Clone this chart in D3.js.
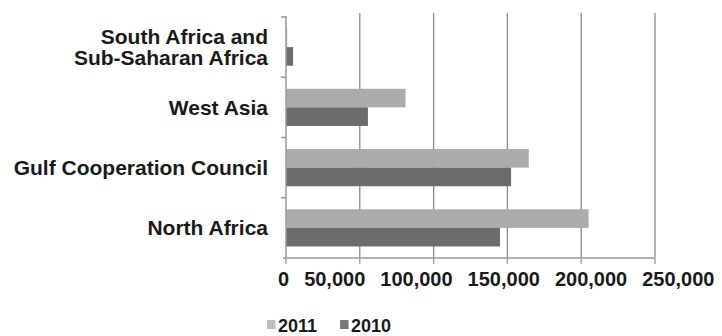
<!DOCTYPE html>
<html>
<head>
<meta charset="utf-8">
<script src="https://cdn.jsdelivr.net/npm/d3@7/dist/d3.min.js"></script>
<style>
  html, body { margin: 0; padding: 0; background: #fff; }
  svg { display: block; }
  text { font-family: "Liberation Sans", Arial, sans-serif; font-weight: bold; fill: #1a1a1a; }
</style>
</head>
<body>
<svg id="chart" width="722" height="336"></svg>
<script>
// Regions, top to bottom
const categories = [
  ["South Africa and", "Sub-Saharan Africa"],
  ["West Asia"],
  ["Gulf Cooperation Council"],
  ["North Africa"]
];
const seriesNames = ["2011", "2010"];
const values2011 = [800, 81000, 164500, 205000];
const values2010 = [4800, 55500, 152500, 145000];
const tickValues = [0, 50000, 100000, 150000, 200000, 250000];
const tickLabels = ["0", "50,000", "100,000", "150,000", "200,000", "250,000"];

const colors = { "2011": "#ababab", "2010": "#6c6c6c" };
const legendColors = { "2011": "#bdbdbd", "2010": "#787878" };

const svg = d3.select("#chart");
const keys = categories.map(c => c.join(" "));

const x = d3.scaleLinear().domain([0, 250000]).range([286, 655]);
const y = d3.scaleBand().domain(keys).range([17, 258]).padding(0);
const ySub = d3.scaleBand().domain(seriesNames).range([0, y.bandwidth()])
  .paddingInner(0).paddingOuter(0.62);

const rows = keys.map((k, i) => ({ key: k, lines: categories[i], "2011": values2011[i], "2010": values2010[i] }));

// vertical gridlines
svg.append("g").selectAll("line").data(tickValues.slice(1)).join("line")
  .attr("x1", d => x(d)).attr("x2", d => x(d))
  .attr("y1", 13).attr("y2", 258)
  .attr("stroke", "#8a8a8a").attr("stroke-width", 1.3);

// bars
const groups = svg.append("g").selectAll("g").data(rows).join("g")
  .attr("transform", d => `translate(0,${y(d.key)})`);
groups.selectAll("rect").data(d => seriesNames.map(s => ({ s, v: d[s] }))).join("rect")
  .attr("x", x(0))
  .attr("y", d => ySub(d.s))
  .attr("width", d => x(d.v) - x(0))
  .attr("height", ySub.bandwidth())
  .attr("fill", d => colors[d.s]);

// left axis line and category ticks
svg.append("line").attr("x1", x(0)).attr("x2", x(0)).attr("y1", 16).attr("y2", 258)
  .attr("stroke", "#9a9a9a").attr("stroke-width", 1.5);
svg.append("g").selectAll("line").data(keys).join("line")
  .attr("x1", x(0) - 5).attr("x2", x(0))
  .attr("y1", d => y(d)).attr("y2", d => y(d))
  .attr("stroke", "#9a9a9a").attr("stroke-width", 1.5);

// bottom axis line and ticks
svg.append("line").attr("x1", x(0) - 3).attr("x2", x(250000)).attr("y1", 258).attr("y2", 258)
  .attr("stroke", "#9a9a9a").attr("stroke-width", 1.5);
svg.append("g").selectAll("line").data(tickValues).join("line")
  .attr("x1", d => x(d)).attr("x2", d => x(d))
  .attr("y1", 258).attr("y2", 264)
  .attr("stroke", "#9a9a9a").attr("stroke-width", 1.3);

// category labels
const labels = svg.append("g").selectAll("text").data(rows).join("text")
  .attr("text-anchor", "end")
  .attr("font-size", 21)
  .attr("x", 268);
labels.each(function (d) {
  const t = d3.select(this);
  const cy = y(d.key) + y.bandwidth() / 2;
  const n = d.lines.length;
  d.lines.forEach((line, i) => {
    t.append("tspan").attr("x", 268)
      .attr("y", cy + (i - (n - 1) / 2) * 21 + 7.5)
      .text(line);
  });
});

// tick labels laid out as a run of words
let cursor = 278;
svg.append("g").selectAll("text").data(tickLabels).join("text")
  .attr("font-size", 20)
  .attr("y", 285.5)
  .text(d => d)
  .each(function () {
    d3.select(this).attr("x", cursor);
    cursor += this.getComputedTextLength() + 15;
  });

// legend
const legend = svg.append("g");
let lx = 267;
seriesNames.forEach(s => {
  legend.append("rect").attr("x", lx).attr("y", 320).attr("width", 8.5).attr("height", 9)
    .attr("fill", legendColors[s]);
  const t = legend.append("text").attr("x", lx + 11).attr("y", 331.5)
    .attr("font-size", 18).attr("fill", "#333").text(s);
  lx += 11 + t.node().getComputedTextLength() + 23;
});
</script>
</body>
</html>
